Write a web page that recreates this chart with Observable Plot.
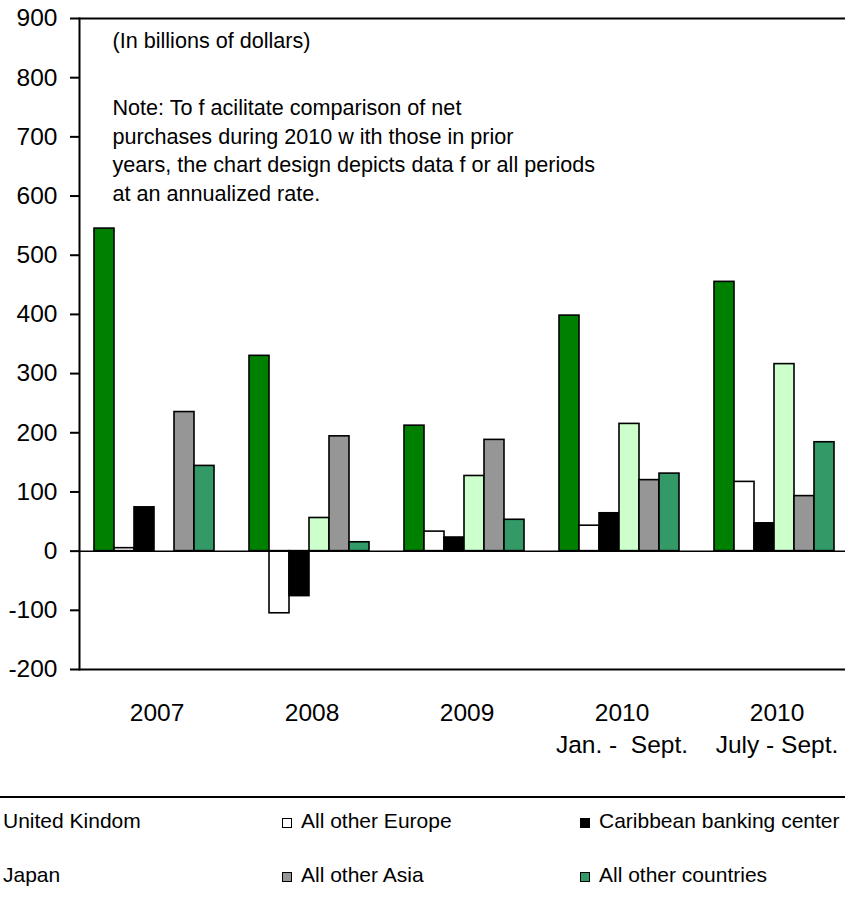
<!DOCTYPE html>
<html>
<head>
<meta charset="utf-8">
<script src="https://cdn.jsdelivr.net/npm/d3@7"></script>
<script src="https://cdn.jsdelivr.net/npm/@observablehq/plot@0.6"></script>
<style>
html, body { margin: 0; padding: 0; background: #fff; overflow: hidden; }
#wrap { position: relative; width: 845px; height: 901px; overflow: hidden; font-family: "Liberation Sans", Arial, sans-serif; }
#chart { position: absolute; left: 0; top: 0; width: 854px; }
#chart svg { max-width: none !important; }
#legend { position: absolute; left: 0; top: 796px; width: 845px; height: 103px; border-top: 2px solid #000; }
.item { position: absolute; font-size: 21px; line-height: 24px; white-space: nowrap; color: #000; }
.sw { display: inline-block; width: 8px; height: 8px; border: 1.5px solid #000; margin-right: 9px; vertical-align: baseline; }
</style>
</head>
<body>
<div id="wrap">
  <div id="chart"></div>
  <div id="legend"></div>
</div>
<script>
// ---- data ----
const periods = ["2007", "2008", "2009", "2010\nJan. -  Sept.", "2010\nJuly - Sept."];
const series = ["United Kindom", "All other Europe", "Caribbean banking center", "Japan", "All other Asia", "All other countries"];
const colors = ["#008000", "#ffffff", "#000000", "#ccffcc", "#969696", "#339966"];
const unitedKingdom = [545, 330, 212, 398, 455];
const otherEurope = [5, -105, 33, 43, 117];
const caribbean = [74, -76, 23, 64, 47];
const japan = [null, 56, 127, 215, 316];
const otherAsia = [235, 194, 188, 120, 93];
const otherCountries = [144, 15, 53, 131, 184];
const yTicks = [-200, -100, 0, 100, 200, 300, 400, 500, 600, 700, 800, 900];
const unitsText = "(In billions of dollars)";
const noteText = "Note: To f acilitate comparison of net\npurchases during 2010 w ith those in prior\nyears, the chart design depicts data f or all periods\nat an annualized rate.";

const valuesBySeries = [unitedKingdom, otherEurope, caribbean, japan, otherAsia, otherCountries];
const rows = [];
series.forEach((s, si) => {
  periods.forEach((p, pi) => {
    const v = valuesBySeries[si][pi];
    if (v !== null) rows.push({period: p, series: s, value: v});
  });
});

const font = '"Liberation Sans", Arial, sans-serif';

const chart = Plot.plot({
  width: 854,
  height: 780,
  marginLeft: 79,
  marginRight: 0,
  marginTop: 18,
  marginBottom: 111,
  facet: {marginTop: 0, marginRight: 0, marginBottom: 0, marginLeft: 0},
  style: {fontFamily: font, background: "white", color: "black", overflow: "visible", maxWidth: "none"},
  fx: {domain: periods, padding: 0, label: null},
  x: {domain: series, paddingInner: 0, paddingOuter: 0.8, align: 0.44, axis: null},
  y: {domain: [-200, 900], label: null},
  color: {domain: series, range: colors},
  marks: [
    Plot.ruleY([900, -200], {stroke: "#000", strokeWidth: 2}),
    Plot.barY(rows, {fx: "period", x: "series", y: "value", fill: "series", stroke: "#000", strokeWidth: 1.6}),
    Plot.ruleY([0], {stroke: "#000", strokeWidth: 1.5}),
    Plot.frame({anchor: "left", facetAnchor: "left", stroke: "#000", strokeWidth: 2}),
    Plot.axisY({ticks: yTicks, tickSize: 9, tickPadding: 13, fontSize: 24.5, strokeWidth: 2, label: null, tickFormat: d => String(d)}),
    Plot.axisFx({anchor: "bottom", tickSize: 0, tickPadding: 29, fontSize: 24.5, lineHeight: 1.31, label: null, tickFormat: d => d}),
    Plot.text([unitsText], {text: d => d, frameAnchor: "top-left", dx: 33, dy: 13.7, textAnchor: "start", lineAnchor: "top", fontSize: 21.6, fill: "#000", facetAnchor: "left"}),
    Plot.text([noteText], {text: d => d, frameAnchor: "top-left", dx: 33, dy: 76, textAnchor: "start", lineAnchor: "top", fontSize: 21.6, lineHeight: 1.33, fill: "#000", facetAnchor: "left"})
  ]
});
document.getElementById("chart").appendChild(chart);

// ---- legend ----
const legend = document.getElementById("legend");
const colLeft = [-16, 282, 580];
const rowTop = [11, 65];
series.forEach((s, i) => {
  const item = document.createElement("div");
  item.className = "item";
  item.style.left = colLeft[i % 3] + "px";
  item.style.top = rowTop[Math.floor(i / 3)] + "px";
  const sw = document.createElement("span");
  sw.className = "sw";
  sw.style.background = colors[i];
  item.appendChild(sw);
  item.appendChild(document.createTextNode(s));
  legend.appendChild(item);
});
</script>
</body>
</html>
